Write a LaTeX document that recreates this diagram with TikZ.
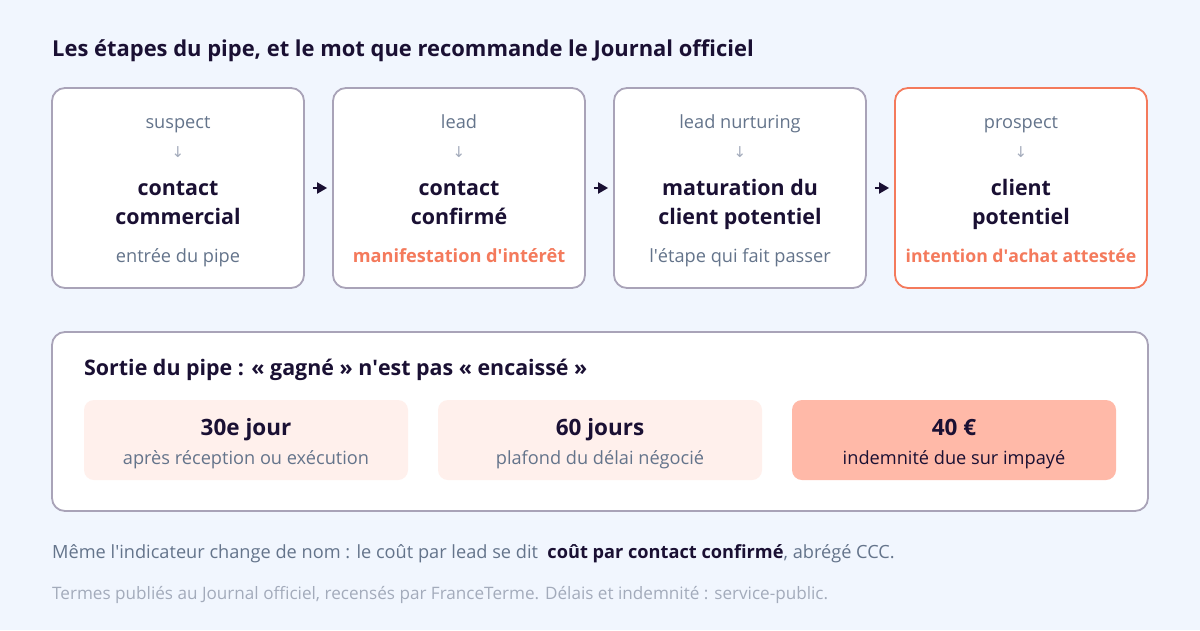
\documentclass[tikz,border=0pt]{standalone}
\usepackage{fontspec}
\setmainfont{Open Sans}[Scale=1.07]
\newfontfamily\symfont{DejaVu Sans}
\usetikzlibrary{positioning}
\usetikzlibrary{calc}
\usetikzlibrary{arrows.meta}
\definecolor{pagebg}{HTML}{F1F6FE}
\definecolor{ink}{HTML}{1A1033}
\definecolor{slate}{HTML}{64748B}
\definecolor{faint}{HTML}{A3ABBB}
\definecolor{frame}{HTML}{A9A3B8}
\definecolor{coral}{HTML}{F47A5C}
\definecolor{blush}{HTML}{FFF0EC}
\definecolor{salmon}{HTML}{FFB9A8}
\newcommand{\apos}{\textquotesingle}
\tikzset{
    % Arrow head between stages
    >={Triangle[length=10pt, width=11pt]},
%
    % A stage of the pipe
    stage/.style={draw=frame, line width=1.8pt, fill=white, rounded corners=13pt,
        minimum width=252pt, minimum height=200pt, inner sep=0},
    % Words inside a stage
    old term/.style={anchor=base, inner sep=0, text=slate, font=\fontsize{17}{20}\selectfont},
    new term/.style={anchor=base, inner sep=0, text=ink, align=center,
        font=\fontsize{20}{29}\bfseries\selectfont},
    gloss/.style={anchor=base, inner sep=0, text=slate, font=\fontsize{17}{20}\selectfont},
    % Figures of the lower panel
    figure card/.style={fill=blush, rounded corners=10pt, minimum width=324pt,
        minimum height=80pt, inner sep=0}}

\begin{document}
\begin{tikzpicture}[x=1pt, y=-1pt]
\fill[pagebg] (0,0) rectangle (1200,630);
\useasboundingbox (0,0) rectangle (1200,630);

% Title
\node[anchor=base west, inner sep=0, text=ink, font=\fontsize{20.5}{24}\bfseries\selectfont]
    (title) at (52,56) {Les étapes du pipe, et le mot que recommande le Journal officiel};

% The four stages
\foreach \n/\x/\old/\hl in {
    1/178/suspect/frame, 2/459/lead/frame,
    3/740/lead nurturing/frame, 4/1021/prospect/coral} {
    \node[stage, draw=\hl] (stage \n) at (\x,188) {};
    \node[old term] (old \n) at (\x,128) {\old};
    \node[text=faint, font=\symfont\fontsize{15}{18}\selectfont] (down \n) at (\x,152) {↓};
}
\node[new term] (new 1) at (178,224) {contact\\commercial};
\node[new term] (new 2) at (459,224) {contact\\confirmé};
\node[new term] (new 3) at (740,224) {maturation du\\client potentiel};
\node[new term] (new 4) at (1021,224) {client\\potentiel};
\node[gloss] (gloss 1) at (178,262) {entrée du pipe};
\node[gloss, text=coral, font=\fontsize{17}{20}\bfseries\selectfont] (gloss 2) at (459,262) {manifestation d\apos intérêt};
\node[gloss] (gloss 3) at (740,262) {l\apos étape qui fait passer};
\node[gloss, text=coral, font=\fontsize{16.5}{20}\bfseries\selectfont] (gloss 4) at (1021,262) {intention d\apos achat attestée};

\foreach \a/\b in {1/2, 2/3, 3/4}
    \draw[->, ink, line width=2pt, shorten <=8pt, shorten >=5pt]
        (stage \a.east) -- (stage \b.west);

% Exit of the pipe
\node[stage, minimum width=1096pt, minimum height=179pt] (exit) at (600,421.5) {};
\node[anchor=base west, inner sep=0, text=ink, font=\fontsize{20}{24}\bfseries\selectfont]
    (exit title) at (84,375) {Sortie du pipe : « gagné » n\apos est pas « encaissé »};
\foreach \n/\x/\big/\fl in {
    1/246/30e jour/blush, 2/600/60 jours/blush, 3/954/40 €/salmon} {
    \node[figure card, fill=\fl] (card \n) at (\x,440) {};
    \node[anchor=base, inner sep=0, text=ink, font=\fontsize{21}{26}\bfseries\selectfont]
        (big \n) at (\x,435) {\big};
}
\node[gloss] (small 1) at (246,464) {après réception ou exécution};
\node[gloss] (small 2) at (600,464) {plafond du délai négocié};
\node[gloss, text=ink] (small 3) at (954,464) {indemnité due sur impayé};

% Footnotes
\node[anchor=base west, inner sep=0, text=slate, font=\fontsize{17}{20}\selectfont]
    (note) at (52,558) {Même l\apos indicateur change de nom : le coût par lead se dit \
    {\color{ink}\bfseries coût par contact confirmé}, abrégé CCC.};
\node[anchor=base west, inner sep=0, text=faint, font=\fontsize{16}{20}\selectfont]
    (source) at (52,599) {Termes publiés au Journal officiel, recensés par FranceTerme. Délais et indemnité : service-public.};
\end{tikzpicture}
\end{document}
